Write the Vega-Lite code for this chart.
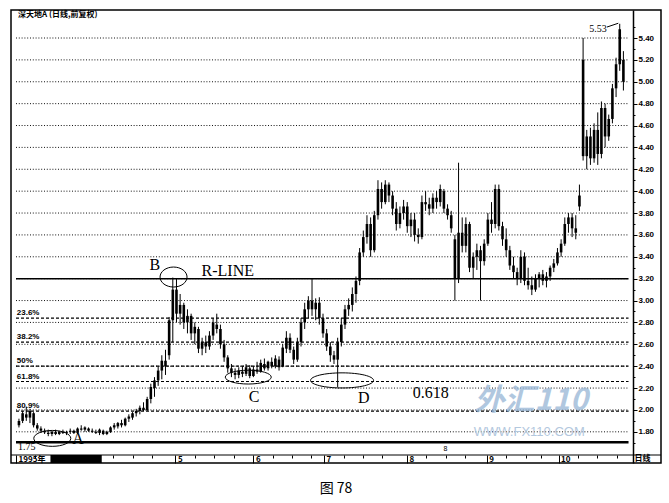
{
"$schema": "https://vega.github.io/schema/vega-lite/v6.json",
"width": 650, "height": 453,
"padding": {"left": 10, "top": 10, "right": 9, "bottom": 0},
"background": "white",
"config": {"view": {"stroke": "black", "strokeWidth": 1.5}, "font": "Liberation Sans"},
"title": {"text": "图 78", "orient": "bottom", "anchor": "middle", "offset": 18, "fontSize": 14, "font": "Noto Sans CJK SC", "fontWeight": "normal", "color": "black"},
"datasets": {
"one": [{}],
"candles": [
{"d":0,"o":1.86,"h":1.92,"l":1.84,"c":1.90},{"d":1,"o":1.90,"h":1.99,"l":1.88,"c":1.97},{"d":2,"o":1.96,"h":2.03,"l":1.90,"c":1.93},{"d":3,"o":1.93,"h":2.01,"l":1.88,"c":1.99},{"d":4,"o":1.97,"h":1.98,"l":1.84,"c":1.86},{"d":5,"o":1.86,"h":1.88,"l":1.81,"c":1.83},{"d":6,"o":1.83,"h":1.85,"l":1.79,"c":1.81},{"d":7,"o":1.81,"h":1.83,"l":1.78,"c":1.795},{"d":8,"o":1.79,"h":1.82,"l":1.76,"c":1.78},{"d":9,"o":1.78,"h":1.81,"l":1.76,"c":1.80},
{"d":10,"o":1.80,"h":1.82,"l":1.77,"c":1.78},{"d":11,"o":1.78,"h":1.81,"l":1.77,"c":1.80},{"d":12,"o":1.80,"h":1.82,"l":1.78,"c":1.79},{"d":13,"o":1.79,"h":1.81,"l":1.77,"c":1.80},{"d":14,"o":1.80,"h":1.83,"l":1.78,"c":1.81},{"d":15,"o":1.81,"h":1.82,"l":1.78,"c":1.79},{"d":16,"o":1.79,"h":1.84,"l":1.78,"c":1.83},{"d":17,"o":1.83,"h":1.86,"l":1.81,"c":1.82},{"d":18,"o":1.82,"h":1.85,"l":1.80,"c":1.84},{"d":19,"o":1.83,"h":1.84,"l":1.80,"c":1.81},
{"d":20,"o":1.81,"h":1.83,"l":1.79,"c":1.80},{"d":21,"o":1.80,"h":1.82,"l":1.78,"c":1.79},{"d":22,"o":1.79,"h":1.83,"l":1.77,"c":1.82},{"d":23,"o":1.81,"h":1.82,"l":1.77,"c":1.78},{"d":24,"o":1.78,"h":1.81,"l":1.77,"c":1.80},{"d":25,"o":1.80,"h":1.85,"l":1.79,"c":1.84},{"d":26,"o":1.84,"h":1.88,"l":1.82,"c":1.86},{"d":27,"o":1.85,"h":1.89,"l":1.83,"c":1.88},{"d":28,"o":1.88,"h":1.91,"l":1.84,"c":1.86},{"d":29,"o":1.86,"h":1.93,"l":1.85,"c":1.92},
{"d":30,"o":1.92,"h":1.96,"l":1.89,"c":1.94},{"d":31,"o":1.93,"h":1.98,"l":1.91,"c":1.97},{"d":32,"o":1.97,"h":2.01,"l":1.94,"c":1.99},{"d":33,"o":1.99,"h":2.04,"l":1.96,"c":2.02},{"d":34,"o":2.02,"h":2.07,"l":1.99,"c":2.00},{"d":35,"o":2.00,"h":2.12,"l":1.99,"c":2.10},{"d":36,"o":2.10,"h":2.24,"l":2.06,"c":2.21},{"d":37,"o":2.20,"h":2.30,"l":2.12,"c":2.27},{"d":38,"o":2.27,"h":2.40,"l":2.22,"c":2.36},{"d":39,"o":2.36,"h":2.50,"l":2.28,"c":2.45},
{"d":40,"o":2.45,"h":2.55,"l":2.32,"c":2.40},{"d":41,"o":2.50,"h":2.85,"l":2.46,"c":2.82},{"d":42,"o":2.82,"h":3.21,"l":2.62,"c":3.10},{"d":43,"o":3.10,"h":3.20,"l":2.80,"c":2.88},{"d":44,"o":2.88,"h":3.06,"l":2.78,"c":2.96},{"d":45,"o":2.96,"h":2.98,"l":2.74,"c":2.80},{"d":46,"o":2.80,"h":2.92,"l":2.70,"c":2.86},{"d":47,"o":2.86,"h":2.88,"l":2.64,"c":2.70},{"d":48,"o":2.70,"h":2.80,"l":2.60,"c":2.76},{"d":49,"o":2.74,"h":2.76,"l":2.52,"c":2.56},
{"d":50,"o":2.56,"h":2.66,"l":2.50,"c":2.62},{"d":51,"o":2.62,"h":2.68,"l":2.52,"c":2.58},{"d":52,"o":2.58,"h":2.72,"l":2.55,"c":2.68},{"d":53,"o":2.68,"h":2.84,"l":2.64,"c":2.80},{"d":54,"o":2.78,"h":2.88,"l":2.70,"c":2.74},{"d":55,"o":2.74,"h":2.78,"l":2.56,"c":2.60},{"d":56,"o":2.60,"h":2.64,"l":2.44,"c":2.48},{"d":57,"o":2.48,"h":2.50,"l":2.34,"c":2.38},{"d":58,"o":2.38,"h":2.42,"l":2.30,"c":2.34},{"d":59,"o":2.34,"h":2.38,"l":2.28,"c":2.32},
{"d":60,"o":2.32,"h":2.39,"l":2.29,"c":2.36},{"d":61,"o":2.35,"h":2.40,"l":2.30,"c":2.33},{"d":62,"o":2.33,"h":2.42,"l":2.31,"c":2.39},{"d":63,"o":2.38,"h":2.41,"l":2.29,"c":2.31},{"d":64,"o":2.31,"h":2.40,"l":2.30,"c":2.37},{"d":65,"o":2.37,"h":2.44,"l":2.33,"c":2.35},{"d":66,"o":2.35,"h":2.46,"l":2.34,"c":2.43},{"d":67,"o":2.42,"h":2.47,"l":2.36,"c":2.38},{"d":68,"o":2.38,"h":2.45,"l":2.36,"c":2.44},{"d":69,"o":2.44,"h":2.48,"l":2.38,"c":2.40},
{"d":70,"o":2.40,"h":2.50,"l":2.38,"c":2.47},{"d":71,"o":2.46,"h":2.49,"l":2.36,"c":2.39},{"d":72,"o":2.40,"h":2.60,"l":2.39,"c":2.57},{"d":73,"o":2.56,"h":2.72,"l":2.52,"c":2.66},{"d":74,"o":2.66,"h":2.70,"l":2.52,"c":2.55},{"d":75,"o":2.55,"h":2.58,"l":2.42,"c":2.46},{"d":76,"o":2.46,"h":2.66,"l":2.44,"c":2.62},{"d":77,"o":2.62,"h":2.84,"l":2.58,"c":2.80},{"d":78,"o":2.80,"h":2.98,"l":2.74,"c":2.92},{"d":79,"o":2.92,"h":3.04,"l":2.84,"c":3.00},
{"d":80,"o":3.00,"h":3.20,"l":2.86,"c":2.92},{"d":81,"o":2.92,"h":3.02,"l":2.82,"c":2.98},{"d":82,"o":2.98,"h":3.03,"l":2.78,"c":2.84},{"d":83,"o":2.84,"h":2.88,"l":2.66,"c":2.70},{"d":84,"o":2.70,"h":2.74,"l":2.54,"c":2.58},{"d":85,"o":2.58,"h":2.62,"l":2.44,"c":2.50},{"d":86,"o":2.50,"h":2.54,"l":2.42,"c":2.46},{"d":87,"o":2.46,"h":2.66,"l":2.21,"c":2.62},{"d":88,"o":2.62,"h":2.84,"l":2.58,"c":2.78},{"d":89,"o":2.78,"h":2.96,"l":2.74,"c":2.92},
{"d":90,"o":2.92,"h":3.02,"l":2.86,"c":2.96},{"d":91,"o":2.96,"h":3.12,"l":2.90,"c":3.06},{"d":92,"o":3.06,"h":3.22,"l":2.98,"c":3.18},{"d":93,"o":3.18,"h":3.48,"l":3.14,"c":3.44},{"d":94,"o":3.44,"h":3.64,"l":3.40,"c":3.58},{"d":95,"o":3.58,"h":3.78,"l":3.52,"c":3.70},{"d":96,"o":3.70,"h":3.76,"l":3.40,"c":3.46},{"d":97,"o":3.46,"h":3.82,"l":3.44,"c":3.78},{"d":98,"o":3.78,"h":4.10,"l":3.74,"c":4.02},{"d":99,"o":4.02,"h":4.08,"l":3.84,"c":3.90},
{"d":100,"o":3.90,"h":4.10,"l":3.88,"c":4.06},{"d":101,"o":4.06,"h":4.08,"l":3.90,"c":3.96},{"d":102,"o":3.96,"h":4.00,"l":3.78,"c":3.84},{"d":103,"o":3.84,"h":3.90,"l":3.64,"c":3.70},{"d":104,"o":3.70,"h":3.86,"l":3.66,"c":3.80},{"d":105,"o":3.80,"h":3.92,"l":3.74,"c":3.86},{"d":106,"o":3.86,"h":3.90,"l":3.62,"c":3.68},{"d":107,"o":3.68,"h":3.80,"l":3.58,"c":3.74},{"d":108,"o":3.74,"h":3.80,"l":3.54,"c":3.60},{"d":109,"o":3.60,"h":3.66,"l":3.52,"c":3.58},
{"d":110,"o":3.58,"h":3.96,"l":3.56,"c":3.90},{"d":111,"o":3.90,"h":4.00,"l":3.82,"c":3.88},{"d":112,"o":3.88,"h":3.94,"l":3.78,"c":3.84},{"d":113,"o":3.84,"h":3.98,"l":3.80,"c":3.94},{"d":114,"o":3.94,"h":4.00,"l":3.84,"c":3.90},{"d":115,"o":3.90,"h":4.06,"l":3.86,"c":4.02},{"d":116,"o":4.00,"h":4.02,"l":3.80,"c":3.84},{"d":117,"o":3.84,"h":3.88,"l":3.74,"c":3.78},{"d":118,"o":3.78,"h":3.82,"l":3.62,"c":3.66},{"d":119,"o":3.56,"h":3.60,"l":3.00,"c":3.20},
{"d":120,"o":3.20,"h":4.26,"l":3.16,"c":3.62},{"d":121,"o":3.62,"h":3.76,"l":3.44,"c":3.50},{"d":122,"o":3.50,"h":3.76,"l":3.44,"c":3.70},{"d":123,"o":3.70,"h":3.72,"l":3.26,"c":3.30},{"d":124,"o":3.30,"h":3.44,"l":3.20,"c":3.40},{"d":125,"o":3.40,"h":3.52,"l":3.28,"c":3.46},{"d":126,"o":3.46,"h":3.50,"l":3.00,"c":3.36},{"d":127,"o":3.36,"h":3.56,"l":3.32,"c":3.52},{"d":128,"o":3.52,"h":3.80,"l":3.50,"c":3.74},{"d":129,"o":3.74,"h":3.90,"l":3.62,"c":3.70},
{"d":130,"o":3.70,"h":4.06,"l":3.66,"c":4.02},{"d":131,"o":4.02,"h":4.06,"l":3.64,"c":3.68},{"d":132,"o":3.68,"h":3.72,"l":3.50,"c":3.56},{"d":133,"o":3.56,"h":3.66,"l":3.40,"c":3.46},{"d":134,"o":3.46,"h":3.50,"l":3.28,"c":3.32},{"d":135,"o":3.32,"h":3.40,"l":3.20,"c":3.26},{"d":136,"o":3.26,"h":3.30,"l":3.14,"c":3.20},{"d":137,"o":3.20,"h":3.46,"l":3.16,"c":3.40},{"d":138,"o":3.40,"h":3.44,"l":3.14,"c":3.18},{"d":139,"o":3.18,"h":3.30,"l":3.10,"c":3.14},
{"d":140,"o":3.14,"h":3.22,"l":3.05,"c":3.10},{"d":141,"o":3.10,"h":3.24,"l":3.08,"c":3.20},{"d":142,"o":3.20,"h":3.26,"l":3.12,"c":3.24},{"d":143,"o":3.24,"h":3.28,"l":3.14,"c":3.18},{"d":144,"o":3.18,"h":3.26,"l":3.12,"c":3.22},{"d":145,"o":3.22,"h":3.32,"l":3.18,"c":3.30},{"d":146,"o":3.30,"h":3.38,"l":3.26,"c":3.34},{"d":147,"o":3.34,"h":3.48,"l":3.32,"c":3.44},{"d":148,"o":3.44,"h":3.56,"l":3.40,"c":3.52},{"d":149,"o":3.52,"h":3.76,"l":3.50,"c":3.70},
{"d":150,"o":3.70,"h":3.80,"l":3.62,"c":3.76},{"d":151,"o":3.76,"h":3.80,"l":3.58,"c":3.66},{"d":152,"o":3.66,"h":3.78,"l":3.56,"c":3.62},{"d":153,"o":3.86,"h":4.06,"l":3.82,"c":3.96},{"d":154,"o":5.20,"h":5.40,"l":4.28,"c":4.32},{"d":155,"o":4.32,"h":4.56,"l":4.20,"c":4.50},{"d":156,"o":4.50,"h":4.58,"l":4.24,"c":4.30},{"d":157,"o":4.30,"h":4.62,"l":4.26,"c":4.56},{"d":158,"o":4.56,"h":4.72,"l":4.24,"c":4.34},{"d":159,"o":4.34,"h":4.82,"l":4.30,"c":4.76},
{"d":160,"o":4.76,"h":4.80,"l":4.40,"c":4.50},{"d":161,"o":4.50,"h":4.70,"l":4.46,"c":4.66},{"d":162,"o":4.66,"h":4.98,"l":4.62,"c":4.94},{"d":163,"o":4.94,"h":5.22,"l":4.86,"c":5.16},{"d":164,"o":5.16,"h":5.53,"l":5.10,"c":5.48},{"d":165,"o":5.20,"h":5.28,"l":4.92,"c":5.00}
],
"grid": [{"v":1.8},{"v":2.0},{"v":2.2},{"v":2.4},{"v":2.6},{"v":2.8},{"v":3.0},{"v":3.2},{"v":3.4},{"v":3.6},{"v":3.8},{"v":4.0},{"v":4.2},{"v":4.4},{"v":4.6},{"v":4.8},{"v":5.0},{"v":5.2},{"v":5.4}],
"fib": [{"v":2.84,"t":"23.6%"},{"v":2.62,"t":"38.2%"},{"v":2.40,"t":"50%"},{"v":2.26,"t":"61.8%"},{"v":1.99,"t":"80.9%"}],
"notes": [{"d":37.1,"v":3.325,"t":"B"},{"d":57,"v":3.274,"t":"R-LINE"},{"d":64.2,"v":2.118,"t":"C"},{"d":94.1,"v":2.109,"t":"D"},{"d":16.1,"v":1.73,"t":"A"},{"d":112.4,"v":2.154,"t":"0.618"}],
"small": [{"d":158.1,"v":5.482,"t":"5.53"},{"d":2.15,"v":1.665,"t":"1.75"}]
},
"resolve": {"axis": {"x": "independent", "y": "independent"}},
"layer": [
{"data": {"name": "grid"}, "mark": {"type": "rule", "color": "#111", "strokeWidth": 1, "strokeDash": [1, 1.8]},
 "encoding": {"x": {"datum": -0.806, "type": "quantitative", "scale": {"domain": [-0.806, 173.9], "nice": false, "zero": false},
   "axis": {"orient": "bottom", "values": [-0.806, 42.7, 64, 83.3, 105.9, 127.7, 147.3], "labelExpr": "datum.value < 0 ? '1995年' : datum.value < 50 ? '5' : datum.value < 70 ? '6' : datum.value < 90 ? '7' : datum.value < 110 ? '8' : datum.value < 135 ? '9' : '10'", "title": null, "grid": false, "domain": false, "tickSize": -8, "tickColor": "black", "labelPadding": 0, "labelBaseline": "top", "labelAlign": "left", "labelOffset": 2, "labelFlush": false, "labelOverlap": false, "labelBound": false, "labelFontSize": 8, "labelFontWeight": "bold", "labelColor": "black", "labelFont": "Noto Sans CJK SC"}},
  "x2": {"datum": 166.4},
  "y": {"field": "v", "type": "quantitative", "scale": {"domain": [1.515, 5.656], "nice": false, "zero": false},
   "axis": {"orient": "right", "offset": -28, "values": [1.8,2.0,2.2,2.4,2.6,2.8,3.0,3.2,3.4,3.6,3.8,4.0,4.2,4.4,4.6,4.8,5.0,5.2,5.4], "format": ".2f", "title": null, "grid": false, "domain": true, "domainColor": "black", "domainWidth": 1.5, "tickSize": 4, "tickColor": "black", "labelPadding": 1, "labelFontSize": 8, "labelFontWeight": "bold", "labelColor": "black", "labelFont": "Liberation Sans"}}}},
{"data": {"name": "fib"}, "mark": {"type": "rule", "color": "black", "strokeWidth": 1.2, "strokeDash": [3, 2]},
 "encoding": {"x": {"datum": -0.806, "type": "quantitative", "scale": {"domain": [-0.806, 173.9], "nice": false, "zero": false},
   "axis": {"orient": "top", "offset": -445, "values": [4.5,9.8,15.1,20.4,25.7,31,36.3,48,53.3,58.6,69.3,74.6,79.6,88.6,93.9,99.2,111.2,116.5,121.8,133,138.3,142.6,152.6,157.9,163.2], "labels": false, "title": null, "grid": false, "domain": false, "tickSize": -3, "tickColor": "black"}},
  "x2": {"datum": 166.4},
  "y": {"field": "v", "type": "quantitative", "scale": {"domain": [1.515, 5.656], "nice": false, "zero": false},
   "axis": {"orient": "right", "offset": -28, "values": [1.7,1.9,2.1,2.3,2.5,2.7,2.9,3.1,3.3,3.5,3.7,3.9,4.1,4.3,4.5,4.7,4.9,5.1,5.3,5.5], "labels": false, "title": null, "grid": false, "domain": false, "tickSize": 2, "tickColor": "black"}}}},
{"data": {"name": "fib"}, "mark": {"type": "text", "align": "left", "baseline": "bottom", "dy": -1, "fontSize": 8, "fontWeight": "bold", "font": "Liberation Sans", "color": "black"},
 "encoding": {"x": {"datum": -0.6, "type": "quantitative", "scale": {"domain": [-0.806, 173.9], "nice": false, "zero": false}, "axis": null},
  "y": {"field": "v", "type": "quantitative", "scale": {"domain": [1.515, 5.656], "nice": false, "zero": false}, "axis": null},
  "text": {"field": "t"}}},
{"data": {"name": "one"}, "mark": {"type": "rule", "color": "black", "strokeWidth": 1.5},
 "encoding": {"x": {"datum": -0.806, "type": "quantitative", "scale": {"domain": [-0.806, 173.9], "nice": false, "zero": false}, "axis": null}, "x2": {"datum": 166.4},
  "y": {"datum": 3.2, "type": "quantitative", "scale": {"domain": [1.515, 5.656], "nice": false, "zero": false}, "axis": null}}},
{"data": {"name": "one"}, "mark": {"type": "rule", "color": "black", "strokeWidth": 2.5},
 "encoding": {"x": {"datum": -0.806, "type": "quantitative", "scale": {"domain": [-0.806, 173.9], "nice": false, "zero": false}, "axis": null}, "x2": {"datum": 166.4},
  "y": {"datum": 1.705, "type": "quantitative", "scale": {"domain": [1.515, 5.656], "nice": false, "zero": false}, "axis": null}}},
{"data": {"name": "one"}, "mark": {"type": "rule", "color": "black", "strokeWidth": 1},
 "encoding": {"y": {"datum": 1.588, "type": "quantitative", "scale": {"domain": [1.515, 5.656], "nice": false, "zero": false}, "axis": null}}},
{"data": {"name": "one"}, "mark": {"type": "rect", "color": "black"},
 "encoding": {"x": {"datum": 8.6, "type": "quantitative", "scale": {"domain": [-0.806, 173.9], "nice": false, "zero": false}, "axis": null}, "x2": {"datum": 22.6},
  "y": {"datum": 1.588, "type": "quantitative", "scale": {"domain": [1.515, 5.656], "nice": false, "zero": false}, "axis": null}, "y2": {"datum": 1.515}}},
{"data": {"name": "candles"}, "mark": {"type": "rule", "color": "black", "strokeWidth": 1},
 "encoding": {"x": {"field": "d", "type": "quantitative", "scale": {"domain": [-0.806, 173.9], "nice": false, "zero": false}, "axis": null},
  "y": {"field": "l", "type": "quantitative", "scale": {"domain": [1.515, 5.656], "nice": false, "zero": false}, "axis": null}, "y2": {"field": "h"}}},
{"data": {"name": "candles"}, "mark": {"type": "bar", "color": "black", "width": 2.6},
 "encoding": {"x": {"field": "d", "type": "quantitative", "scale": {"domain": [-0.806, 173.9], "nice": false, "zero": false}, "axis": null},
  "y": {"field": "o", "type": "quantitative", "scale": {"domain": [1.515, 5.656], "nice": false, "zero": false}, "axis": null}, "y2": {"field": "c"}}},
{"data": {"name": "one"}, "mark": {"type": "point", "shape": "M-1,0 A1,0.43 0 1,0 1,0 A1,0.43 0 1,0 -1,0", "size": 1369, "filled": false, "color": "black", "strokeWidth": 1, "opacity": 1},
 "encoding": {"x": {"datum": 9.1, "type": "quantitative", "scale": {"domain": [-0.806, 173.9], "nice": false, "zero": false}, "axis": null},
  "y": {"datum": 1.74, "type": "quantitative", "scale": {"domain": [1.515, 5.656], "nice": false, "zero": false}, "axis": null}}},
{"data": {"name": "one"}, "mark": {"type": "point", "shape": "M-1,0 A1,0.74 0 1,0 1,0 A1,0.74 0 1,0 -1,0", "size": 729, "filled": false, "color": "black", "strokeWidth": 1, "opacity": 1},
 "encoding": {"x": {"datum": 42.2, "type": "quantitative", "scale": {"domain": [-0.806, 173.9], "nice": false, "zero": false}, "axis": null},
  "y": {"datum": 3.215, "type": "quantitative", "scale": {"domain": [1.515, 5.656], "nice": false, "zero": false}, "axis": null}}},
{"data": {"name": "one"}, "mark": {"type": "point", "shape": "M-1,0 A1,0.30 0 1,0 1,0 A1,0.30 0 1,0 -1,0", "size": 2116, "filled": false, "color": "black", "strokeWidth": 1, "opacity": 1},
 "encoding": {"x": {"datum": 62.6, "type": "quantitative", "scale": {"domain": [-0.806, 173.9], "nice": false, "zero": false}, "axis": null},
  "y": {"datum": 2.30, "type": "quantitative", "scale": {"domain": [1.515, 5.656], "nice": false, "zero": false}, "axis": null}}},
{"data": {"name": "one"}, "mark": {"type": "point", "shape": "M-1,0 A1,0.24 0 1,0 1,0 A1,0.24 0 1,0 -1,0", "size": 3969, "filled": false, "color": "black", "strokeWidth": 1, "opacity": 1},
 "encoding": {"x": {"datum": 88.2, "type": "quantitative", "scale": {"domain": [-0.806, 173.9], "nice": false, "zero": false}, "axis": null},
  "y": {"datum": 2.27, "type": "quantitative", "scale": {"domain": [1.515, 5.656], "nice": false, "zero": false}, "axis": null}}},
{"data": {"name": "notes"}, "mark": {"type": "text", "align": "center", "baseline": "middle", "fontSize": 16, "font": "Liberation Serif", "color": "black"},
 "encoding": {"x": {"field": "d", "type": "quantitative", "scale": {"domain": [-0.806, 173.9], "nice": false, "zero": false}, "axis": null},
  "y": {"field": "v", "type": "quantitative", "scale": {"domain": [1.515, 5.656], "nice": false, "zero": false}, "axis": null}, "text": {"field": "t"}}},
{"data": {"name": "small"}, "mark": {"type": "text", "align": "center", "baseline": "middle", "fontSize": 10, "font": "Liberation Serif", "color": "black"},
 "encoding": {"x": {"field": "d", "type": "quantitative", "scale": {"domain": [-0.806, 173.9], "nice": false, "zero": false}, "axis": null},
  "y": {"field": "v", "type": "quantitative", "scale": {"domain": [1.515, 5.656], "nice": false, "zero": false}, "axis": null}, "text": {"field": "t"}}},
{"data": {"name": "one"}, "mark": {"type": "rule", "color": "black", "strokeWidth": 1},
 "encoding": {"x": {"datum": 160.5, "type": "quantitative", "scale": {"domain": [-0.806, 173.9], "nice": false, "zero": false}, "axis": null}, "x2": {"datum": 163.6},
  "y": {"datum": 5.50, "type": "quantitative", "scale": {"domain": [1.515, 5.656], "nice": false, "zero": false}, "axis": null}, "y2": {"datum": 5.535}}},
{"data": {"name": "one"}, "mark": {"type": "text", "align": "left", "baseline": "middle", "fontSize": 8, "fontWeight": "bold", "font": "Noto Sans CJK SC", "color": "black", "text": "深天地A (日线,前复权)"},
 "encoding": {"x": {"datum": -0.27, "type": "quantitative", "scale": {"domain": [-0.806, 173.9], "nice": false, "zero": false}, "axis": null},
  "y": {"datum": 5.61, "type": "quantitative", "scale": {"domain": [1.515, 5.656], "nice": false, "zero": false}, "axis": null}}},
{"data": {"name": "one"}, "mark": {"type": "text", "align": "center", "baseline": "middle", "fontSize": 8, "fontWeight": "bold", "font": "Noto Sans CJK SC", "color": "black", "text": "日线"},
 "encoding": {"x": {"datum": 170.2, "type": "quantitative", "scale": {"domain": [-0.806, 173.9], "nice": false, "zero": false}, "axis": null},
  "y": {"datum": 1.551, "type": "quantitative", "scale": {"domain": [1.515, 5.656], "nice": false, "zero": false}, "axis": null}}},
{"data": {"name": "one"}, "mark": {"type": "text", "align": "center", "baseline": "middle", "fontSize": 7, "font": "Liberation Sans", "color": "black", "text": "8"},
 "encoding": {"x": {"datum": 116.4, "type": "quantitative", "scale": {"domain": [-0.806, 173.9], "nice": false, "zero": false}, "axis": null},
  "y": {"datum": 1.64, "type": "quantitative", "scale": {"domain": [1.515, 5.656], "nice": false, "zero": false}, "axis": null}}},
{"data": {"name": "one"}, "mark": {"type": "text", "align": "center", "baseline": "middle", "fontSize": 30, "fontWeight": "bold", "fontStyle": "italic", "font": "Noto Sans CJK SC", "color": "#9dbad8", "opacity": 0.8, "text": "外汇110"},
 "encoding": {"x": {"datum": 139.8, "type": "quantitative", "scale": {"domain": [-0.806, 173.9], "nice": false, "zero": false}, "axis": null},
  "y": {"datum": 2.08, "type": "quantitative", "scale": {"domain": [1.515, 5.656], "nice": false, "zero": false}, "axis": null}}},
{"data": {"name": "one"}, "mark": {"type": "text", "align": "center", "baseline": "middle", "fontSize": 13, "font": "Liberation Sans", "color": "#b3c8de", "text": "WWW.FX110.COM"},
 "encoding": {"x": {"datum": 139.3, "type": "quantitative", "scale": {"domain": [-0.806, 173.9], "nice": false, "zero": false}, "axis": null},
  "y": {"datum": 1.798, "type": "quantitative", "scale": {"domain": [1.515, 5.656], "nice": false, "zero": false}, "axis": null}}}
]
}
